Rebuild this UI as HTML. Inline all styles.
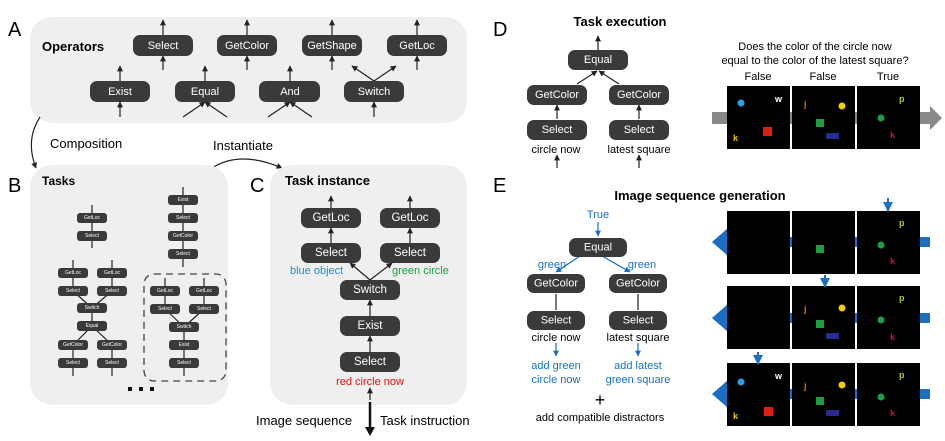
<!DOCTYPE html>
<html><head><meta charset="utf-8"><style>
html,body{margin:0;padding:0;background:#fff;}
svg{display:block;font-family:"Liberation Sans",Arial,sans-serif;}
.n{fill:#3a3a3a;}
.t{fill:#fff;text-anchor:middle;dominant-baseline:central;}
.l{stroke:#222;stroke-width:1.2;fill:none;}
.c{text-anchor:middle;}
</style></head><body>
<svg width="945" height="441" viewBox="0 0 945 441" xmlns="http://www.w3.org/2000/svg">
<defs>
<marker id="a" viewBox="0 0 10 10" refX="9" refY="5" markerWidth="5" markerHeight="5" orient="auto"><path d="M0,0L10,5L0,10z" fill="#222"/></marker>
<marker id="g" viewBox="0 0 10 10" refX="9" refY="5" markerWidth="5" markerHeight="5" orient="auto"><path d="M0,0L10,5L0,10z" fill="#1a6fc2"/></marker>
</defs>
<!-- Panel A -->
<text x="8" y="36" font-size="20">A</text>
<rect x="30" y="17" width="437" height="106" rx="22" fill="#efeff0"/>
<text x="42" y="51" font-size="13" font-weight="bold">Operators</text>
<g class="l" marker-end="url(#a)">
<line x1="163" y1="35" x2="163" y2="20"/><line x1="247" y1="35" x2="247" y2="20"/><line x1="332" y1="35" x2="332" y2="20"/><line x1="417" y1="35" x2="417" y2="20"/>
<line x1="163" y1="70" x2="163" y2="56"/><line x1="247" y1="70" x2="247" y2="56"/><line x1="332" y1="70" x2="332" y2="56"/><line x1="417" y1="70" x2="417" y2="56"/>
<line x1="120" y1="81" x2="120" y2="66"/><line x1="205" y1="81" x2="205" y2="66"/><line x1="290" y1="81" x2="290" y2="66"/>
<line x1="374" y1="81" x2="352" y2="66"/><line x1="374" y1="81" x2="396" y2="66"/>
<line x1="120" y1="117" x2="120" y2="102"/><line x1="374" y1="117" x2="374" y2="102"/>
<line x1="183" y1="117" x2="205" y2="102"/><line x1="227" y1="117" x2="205" y2="102"/>
<line x1="268" y1="117" x2="290" y2="102"/><line x1="312" y1="117" x2="290" y2="102"/>
</g>
<g font-size="11">
<rect class="n" x="133" y="35" width="60" height="21" rx="7"/><text class="t" x="163" y="46">Select</text>
<rect class="n" x="217" y="35" width="60" height="21" rx="7"/><text class="t" x="247" y="46">GetColor</text>
<rect class="n" x="302" y="35" width="60" height="21" rx="7"/><text class="t" x="332" y="46">GetShape</text>
<rect class="n" x="387" y="35" width="60" height="21" rx="7"/><text class="t" x="417" y="46">GetLoc</text>
<rect class="n" x="90" y="81" width="60" height="21" rx="7"/><text class="t" x="120" y="92">Exist</text>
<rect class="n" x="175" y="81" width="60" height="21" rx="7"/><text class="t" x="205" y="92">Equal</text>
<rect class="n" x="259" y="81" width="61" height="21" rx="7"/><text class="t" x="290" y="92">And</text>
<rect class="n" x="344" y="81" width="60" height="21" rx="7"/><text class="t" x="374" y="92">Switch</text>
</g>
<path class="l" marker-end="url(#a)" d="M40,117 Q25,140 36,168"/>
<text x="50" y="148" font-size="13">Composition</text>
<path class="l" marker-end="url(#a)" d="M212,168 Q240,150 282,168"/>
<text x="213" y="150" font-size="13">Instantiate</text>

<!-- Panel B -->
<text x="8" y="192" font-size="20">B</text>
<rect x="30" y="165" width="198" height="240" rx="22" fill="#efeff0"/>
<text x="42" y="185" font-size="12" font-weight="bold">Tasks</text>
<g class="l" stroke-width="0.8">
<line x1="92" y1="205" x2="92" y2="248"/>
<line x1="183" y1="187" x2="183" y2="267"/>
<line x1="73" y1="260" x2="73" y2="291"/><line x1="112" y1="260" x2="112" y2="291"/>
<line x1="73" y1="291" x2="92" y2="308"/><line x1="112" y1="291" x2="92" y2="308"/>
<line x1="92" y1="308" x2="92" y2="326"/>
<line x1="92" y1="326" x2="73" y2="345"/><line x1="92" y1="326" x2="112" y2="345"/>
<line x1="73" y1="345" x2="73" y2="376"/><line x1="112" y1="345" x2="112" y2="376"/>
<line x1="165" y1="278" x2="165" y2="309"/><line x1="204" y1="278" x2="204" y2="309"/>
<line x1="165" y1="309" x2="184" y2="327"/><line x1="204" y1="309" x2="184" y2="327"/>
<line x1="184" y1="327" x2="184" y2="376"/>
</g>
<rect x="144" y="274" width="82" height="107" rx="10" fill="none" stroke="#444" stroke-width="1.3" stroke-dasharray="7,5"/>
<g font-size="5">
<rect class="n" x="77" y="213" width="30" height="10" rx="3"/><text class="t" x="92" y="218">GetLoc</text>
<rect class="n" x="77" y="231" width="30" height="10" rx="3"/><text class="t" x="92" y="236">Select</text>
<rect class="n" x="168" y="195" width="30" height="10" rx="3"/><text class="t" x="183" y="200">Exist</text>
<rect class="n" x="168" y="213" width="30" height="10" rx="3"/><text class="t" x="183" y="218">Select</text>
<rect class="n" x="168" y="231" width="30" height="10" rx="3"/><text class="t" x="183" y="236">GetColor</text>
<rect class="n" x="168" y="249" width="30" height="10" rx="3"/><text class="t" x="183" y="254">Select</text>
<rect class="n" x="58" y="268" width="30" height="10" rx="3"/><text class="t" x="73" y="273">GetLoc</text>
<rect class="n" x="97" y="268" width="30" height="10" rx="3"/><text class="t" x="112" y="273">GetLoc</text>
<rect class="n" x="58" y="286" width="30" height="10" rx="3"/><text class="t" x="73" y="291">Select</text>
<rect class="n" x="97" y="286" width="30" height="10" rx="3"/><text class="t" x="112" y="291">Select</text>
<rect class="n" x="77" y="303" width="30" height="10" rx="3"/><text class="t" x="92" y="308">Switch</text>
<rect class="n" x="77" y="321" width="30" height="10" rx="3"/><text class="t" x="92" y="326">Equal</text>
<rect class="n" x="58" y="340" width="30" height="10" rx="3"/><text class="t" x="73" y="345">GetColor</text>
<rect class="n" x="97" y="340" width="30" height="10" rx="3"/><text class="t" x="112" y="345">GetColor</text>
<rect class="n" x="58" y="358" width="30" height="10" rx="3"/><text class="t" x="73" y="363">Select</text>
<rect class="n" x="97" y="358" width="30" height="10" rx="3"/><text class="t" x="112" y="363">Select</text>
<rect class="n" x="150" y="286" width="30" height="10" rx="3"/><text class="t" x="165" y="291">GetLoc</text>
<rect class="n" x="189" y="286" width="30" height="10" rx="3"/><text class="t" x="204" y="291">GetLoc</text>
<rect class="n" x="150" y="304" width="30" height="10" rx="3"/><text class="t" x="165" y="309">Select</text>
<rect class="n" x="189" y="304" width="30" height="10" rx="3"/><text class="t" x="204" y="309">Select</text>
<rect class="n" x="169" y="322" width="30" height="10" rx="3"/><text class="t" x="184" y="327">Switch</text>
<rect class="n" x="169" y="340" width="30" height="10" rx="3"/><text class="t" x="184" y="345">Exist</text>
<rect class="n" x="169" y="358" width="30" height="10" rx="3"/><text class="t" x="184" y="363">Select</text>
</g>
<rect x="128" y="387" width="4" height="4" fill="#111"/><rect x="139" y="387" width="4" height="4" fill="#111"/><rect x="150" y="387" width="4" height="4" fill="#111"/>

<!-- Panel C -->
<text x="250" y="192" font-size="20">C</text>
<rect x="270" y="165" width="197" height="240" rx="22" fill="#efeff0"/>
<text x="285" y="185" font-size="13" font-weight="bold">Task instance</text>
<g class="l" marker-end="url(#a)">
<line x1="331" y1="208" x2="331" y2="196"/><line x1="410" y1="208" x2="410" y2="196"/>
<line x1="331" y1="243" x2="331" y2="228"/><line x1="410" y1="243" x2="410" y2="228"/>
<line x1="370" y1="280" x2="350" y2="263"/><line x1="370" y1="280" x2="392" y2="263"/>
<line x1="370" y1="316" x2="370" y2="300"/><line x1="370" y1="352" x2="370" y2="336"/>
<line x1="370" y1="400" x2="370" y2="388"/>
</g>
<g font-size="11.5">
<rect class="n" x="301" y="208" width="60" height="20" rx="7"/><text class="t" x="331" y="218">GetLoc</text>
<rect class="n" x="380" y="208" width="60" height="20" rx="7"/><text class="t" x="410" y="218">GetLoc</text>
<rect class="n" x="301" y="243" width="60" height="20" rx="7"/><text class="t" x="331" y="253">Select</text>
<rect class="n" x="380" y="243" width="60" height="20" rx="7"/><text class="t" x="410" y="253">Select</text>
<rect class="n" x="340" y="280" width="60" height="20" rx="7"/><text class="t" x="370" y="290">Switch</text>
<rect class="n" x="340" y="316" width="60" height="20" rx="7"/><text class="t" x="370" y="326">Exist</text>
<rect class="n" x="340" y="352" width="60" height="20" rx="7"/><text class="t" x="370" y="362">Select</text>
</g>
<text x="290" y="274" font-size="11" fill="#1a8fd0">blue object</text>
<text x="392" y="274" font-size="11" fill="#1aa040">green circle</text>
<text class="c" x="370" y="385" font-size="11" fill="#e01010">red circle now</text>
<line x1="370" y1="402" x2="370" y2="428" stroke="#111" stroke-width="2.5"/>
<path d="M365,427 L375,427 L370,436z" fill="#111"/>
<text x="256" y="425" font-size="13">Image sequence</text>
<text x="380" y="425" font-size="13">Task instruction</text>

<!-- Panel D -->
<text x="493" y="36" font-size="20">D</text>
<text class="c" x="620" y="26" font-size="13" font-weight="bold">Task execution</text>
<g class="l" marker-end="url(#a)">
<line x1="598" y1="50" x2="598" y2="36"/>
<line x1="577" y1="84" x2="597" y2="71"/><line x1="619" y1="84" x2="599" y2="71"/>
<line x1="557" y1="119" x2="557" y2="105"/><line x1="639" y1="119" x2="639" y2="105"/>
<line x1="557" y1="168" x2="557" y2="155"/><line x1="639" y1="168" x2="639" y2="155"/>
</g>
<g font-size="11">
<rect class="n" x="568" y="50" width="60" height="20" rx="7"/><text class="t" x="598" y="60">Equal</text>
<rect class="n" x="527" y="85" width="60" height="20" rx="7"/><text class="t" x="557" y="95">GetColor</text>
<rect class="n" x="609" y="85" width="60" height="20" rx="7"/><text class="t" x="639" y="95">GetColor</text>
<rect class="n" x="527" y="120" width="60" height="20" rx="7"/><text class="t" x="557" y="130">Select</text>
<rect class="n" x="609" y="120" width="60" height="20" rx="7"/><text class="t" x="639" y="130">Select</text>
</g>
<text class="c" x="556" y="153" font-size="11">circle now</text>
<text class="c" x="639" y="153" font-size="11">latest square</text>
<text class="c" x="815" y="50" font-size="11">Does the color of the circle now</text>
<text class="c" x="815" y="64" font-size="11">equal to the color of the latest square?</text>
<text class="c" x="758" y="80" font-size="11">False</text>
<text class="c" x="823" y="80" font-size="11">False</text>
<text class="c" x="888" y="80" font-size="11">True</text>
<rect x="712" y="112" width="220" height="12" fill="#888"/>
<path d="M930,106 L942,118 L930,130z" fill="#888"/>
<rect x="727" y="86" width="63" height="63" fill="#000"/>
<rect x="792" y="86" width="63" height="63" fill="#000"/>
<rect x="857" y="86" width="63" height="63" fill="#000"/>
<circle cx="741" cy="103" r="3.5" fill="#2aa0e0"/>
<text x="775" y="102" font-size="9" font-weight="bold" fill="#fff">w</text>
<text x="733" y="141" font-size="9" font-weight="bold" fill="#e8d000">k</text>
<rect x="763" y="127" width="9" height="9" fill="#e21b1b"/>
<text x="804" y="107" font-size="9" font-weight="bold" fill="#e07010">j</text>
<circle cx="842" cy="106" r="3.5" fill="#f0d000"/>
<rect x="816" y="119" width="8" height="8" fill="#1aa040"/>
<rect x="826" y="133" width="13" height="6" fill="#2a2a90"/>
<text x="899" y="102" font-size="9" font-weight="bold" fill="#b8c030">p</text>
<circle cx="881" cy="118" r="3.5" fill="#1aa040"/>
<text x="890" y="138" font-size="9" font-weight="bold" fill="#d01040">k</text>

<!-- Panel E -->
<text x="493" y="192" font-size="20">E</text>
<text class="c" x="700" y="200" font-size="13" font-weight="bold">Image sequence generation</text>
<text class="c" x="598" y="218" font-size="11" fill="#1a6fc2">True</text>
<g stroke="#1a6fc2" stroke-width="1.2" fill="none" marker-end="url(#g)">
<line x1="598" y1="222" x2="598" y2="236"/>
<line x1="580" y1="256" x2="556" y2="272"/><line x1="602" y1="256" x2="630" y2="272"/>
<line x1="556" y1="343" x2="556" y2="356"/><line x1="638" y1="343" x2="638" y2="356"/>
</g>
<g class="l"><line x1="556" y1="294" x2="556" y2="310"/><line x1="638" y1="294" x2="638" y2="310"/></g>
<g font-size="11">
<rect class="n" x="569" y="238" width="58" height="19" rx="7"/><text class="t" x="598" y="247.5">Equal</text>
<rect class="n" x="527" y="274" width="58" height="19" rx="7"/><text class="t" x="556" y="283.5">GetColor</text>
<rect class="n" x="609" y="274" width="58" height="19" rx="7"/><text class="t" x="638" y="283.5">GetColor</text>
<rect class="n" x="527" y="311" width="58" height="19" rx="7"/><text class="t" x="556" y="320.5">Select</text>
<rect class="n" x="609" y="311" width="58" height="19" rx="7"/><text class="t" x="638" y="320.5">Select</text>
</g>
<text class="c" x="552" y="268" font-size="11" fill="#1a6fc2">green</text>
<text class="c" x="642" y="268" font-size="11" fill="#1a6fc2">green</text>
<text class="c" x="556" y="341" font-size="11">circle now</text>
<text class="c" x="638" y="341" font-size="11">latest square</text>
<g font-size="11" fill="#1a6fc2">
<text class="c" x="556" y="369">add green</text><text class="c" x="556" y="383">circle now</text>
<text class="c" x="638" y="369">add latest</text><text class="c" x="638" y="383">green square</text>
</g>
<text class="c" x="600" y="406" font-size="18">+</text>
<text class="c" x="600" y="421" font-size="11">add compatible distractors</text>
<!-- E rows -->
<g fill="#1a6fc2">
<rect x="720" y="237" width="210" height="10"/><path d="M728,228 L712,242 L728,256z"/>
<rect x="720" y="313" width="210" height="10"/><path d="M728,304 L712,318 L728,332z"/>
<rect x="720" y="389" width="210" height="10"/><path d="M728,380 L712,394 L728,408z"/>
</g>
<g fill="#000">
<rect x="727" y="211" width="63" height="63"/><rect x="792" y="211" width="63" height="63"/><rect x="857" y="211" width="63" height="63"/>
<rect x="727" y="286" width="63" height="63"/><rect x="792" y="286" width="63" height="63"/><rect x="857" y="286" width="63" height="63"/>
<rect x="727" y="363" width="63" height="63"/><rect x="792" y="363" width="63" height="63"/><rect x="857" y="363" width="63" height="63"/>
</g>
<g stroke="#1a6fc2" stroke-width="2" marker-end="url(#g)">
<line x1="888" y1="198" x2="888" y2="211"/><line x1="825" y1="275" x2="825" y2="287"/><line x1="758" y1="352" x2="758" y2="364"/>
</g>
<!-- row1 -->
<rect x="816" y="245" width="8" height="8" fill="#1aa040"/>
<text x="899" y="226" font-size="9" font-weight="bold" fill="#b8c030">p</text>
<circle cx="881" cy="245" r="3.5" fill="#1aa040"/>
<text x="890" y="264" font-size="9" font-weight="bold" fill="#d01040">k</text>
<!-- row2 -->
<text x="804" y="312" font-size="9" font-weight="bold" fill="#e07010">j</text>
<circle cx="842" cy="308" r="3.5" fill="#f0d000"/>
<rect x="816" y="320" width="8" height="8" fill="#1aa040"/>
<rect x="826" y="333" width="13" height="6" fill="#2a2a90"/>
<text x="899" y="301" font-size="9" font-weight="bold" fill="#b8c030">p</text>
<circle cx="881" cy="320" r="3.5" fill="#1aa040"/>
<text x="890" y="340" font-size="9" font-weight="bold" fill="#d01040">k</text>
<!-- row3 -->
<circle cx="741" cy="382" r="3.5" fill="#2aa0e0"/>
<text x="775" y="379" font-size="9" font-weight="bold" fill="#fff">w</text>
<text x="733" y="419" font-size="9" font-weight="bold" fill="#e8d000">k</text>
<rect x="764" y="407" width="9" height="9" fill="#e21b1b"/>
<text x="804" y="389" font-size="9" font-weight="bold" fill="#e07010">j</text>
<circle cx="842" cy="385" r="3.5" fill="#f0d000"/>
<rect x="816" y="397" width="8" height="8" fill="#1aa040"/>
<rect x="826" y="410" width="13" height="6" fill="#2a2a90"/>
<text x="899" y="378" font-size="9" font-weight="bold" fill="#b8c030">p</text>
<circle cx="881" cy="397" r="3.5" fill="#1aa040"/>
<text x="890" y="416" font-size="9" font-weight="bold" fill="#d01040">k</text>
</svg>
</body></html>
